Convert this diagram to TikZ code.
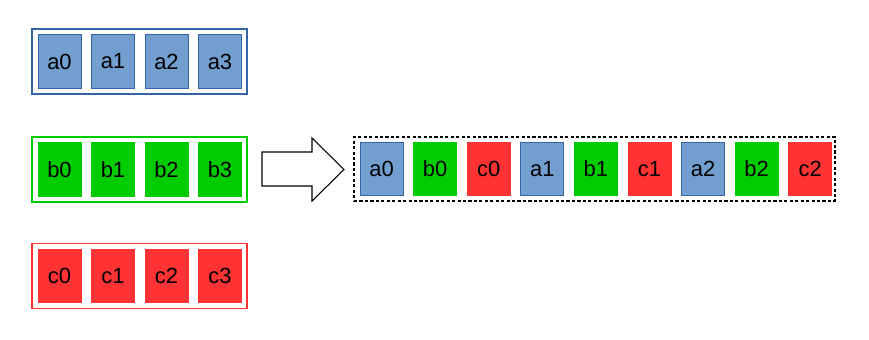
\documentclass[tikz,border=0pt]{standalone}
\usepackage{fontspec}
\setmainfont{Liberation Sans}
\definecolor{cellblue}{HTML}{729FCF}
\definecolor{lineblue}{HTML}{3465A4}
\definecolor{cellgreen}{HTML}{00CC00}
\definecolor{cellred}{HTML}{FF3333}
\begin{document}
\begin{tikzpicture}[x=0.02cm, y=-0.02cm,
  cell/.style={rectangle, minimum width=0.86cm, minimum height=1.07cm, inner sep=0pt, font=\fontsize{12.5}{14}\selectfont, line width=0.4pt},
  acell/.style={cell, fill=cellblue, draw=lineblue},
  bcell/.style={cell, fill=cellgreen, draw=cellgreen},
  ccell/.style={cell, fill=cellred, draw=cellred},
  group/.style={rectangle, minimum width=4.3cm, minimum height=1.3cm, inner sep=0pt, line width=0.6pt},
  blockarrow/.style={draw=black, fill=white, line width=0.6pt}
]
  \useasboundingbox (0,0) rectangle (869,339);

  % input groups
  \node[group, draw=lineblue]   (ga) at (139.5,61.5) {};
  \node[group, draw=cellgreen]  (gb) at (139.5,169.5) {};
  \node[group, draw=cellred]    (gc) at (139.5,276) {};

  \foreach \i in {0,...,3} {
    \node[acell] (a\i) at (59.5+53.5*\i,61.5) {a\i};
    \node[bcell] (b\i) at (59.5+53.5*\i,169.5) {b\i};
    \node[ccell] (c\i) at (59.5+53.5*\i,276) {c\i};
  }

  % big arrow
  \draw[blockarrow] (262,152) -- (312,152) -- (312,138) -- (344,169.5)
    -- (312,201) -- (312,186) -- (262,186) -- cycle;

  % interleaved result
  \node[rectangle, minimum width=9.62cm, minimum height=1.28cm, inner sep=0pt,
        draw=black, line width=0.9pt, dash pattern=on 1.8pt off 1.3pt] (merged) at (594.5,169) {};
  \foreach \i in {0,...,2} {
    \node[acell] (ma\i) at (381.5+160.8*\i,169) {a\i};
    \node[bcell] (mb\i) at (435.1+160.8*\i,169) {b\i};
    \node[ccell] (mc\i) at (488.7+160.8*\i,169) {c\i};
  }
\end{tikzpicture}
\end{document}
